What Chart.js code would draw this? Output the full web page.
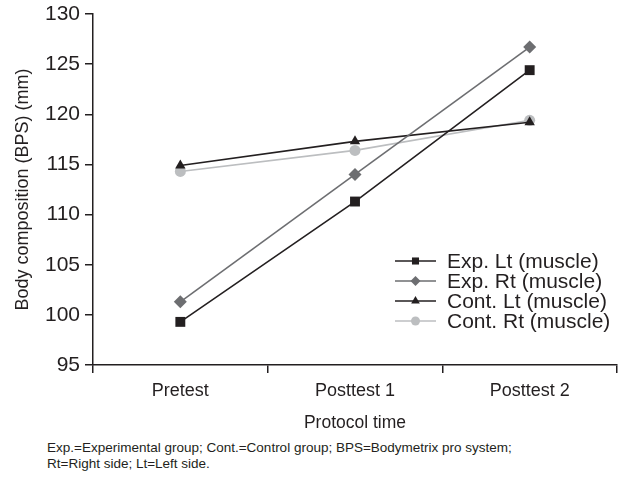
<!DOCTYPE html>
<html>
<head>
<meta charset="utf-8">
<script src="https://cdn.jsdelivr.net/npm/chart.js@4"></script>
<style>
  body { margin: 0; background: #fff; font-family: "Liberation Sans", Arial, sans-serif; }
  #wrap { position: relative; width: 624px; height: 479px; }
  #chart { position: absolute; left: 0; top: 0; }
  #caption { position: absolute; left: 47px; top: 440px; font-size: 13.5px; line-height: 15.5px; color: #231f20; }
</style>
</head>
<body>
<div id="wrap">
  <canvas id="chart" width="624" height="440"></canvas>
  <div id="caption">Exp.=Experimental group; Cont.=Control group; BPS=Bodymetrix pro system;<br>Rt=Right side; Lt=Left side.</div>
</div>
<script>
'use strict';

const time_points = ['Pretest', 'Posttest 1', 'Posttest 2'];
const exp_lt = [99.3, 111.3, 124.4];
const exp_rt = [101.3, 114.0, 126.7];
const cont_lt = [114.9, 117.3, 119.2];
const cont_rt = [114.3, 116.4, 119.4];
const y_ticks = [95, 100, 105, 110, 115, 120, 125, 130];

const FONT = '"Liberation Sans", Arial, sans-serif';

const make_set = (label, data, color, style, radius, legend_radius) => ({
    label, data,
    borderColor: color,
    backgroundColor: color,
    borderWidth: 1.6,
    pointStyle: style,
    pointRadius: radius,
    pointHoverRadius: radius,
    pointBorderWidth: 0,
    legendRadius: legend_radius
});

// legend drawn inside the plot, line with marker through it
const inner_legend = {
    id: 'inner_legend',
    afterDraw(chart) {
        const ctx = chart.ctx;
        const x0 = 395, x1 = 436, tx = 447;
        chart.data.datasets.forEach((ds, i) => {
            const y = 261 + i * 20;
            ctx.save();
            ctx.strokeStyle = ds.borderColor;
            ctx.lineWidth = 1.6;
            ctx.beginPath();
            ctx.moveTo(x0, y);
            ctx.lineTo(x1, y);
            ctx.stroke();
            ctx.fillStyle = ds.backgroundColor;
            Chart.helpers.drawPoint(ctx, { pointStyle: ds.pointStyle, radius: ds.legendRadius, borderWidth: 0 }, (x0 + x1) / 2, y);
            ctx.fillStyle = '#231f20';
            ctx.font = '21px ' + FONT;
            ctx.textBaseline = 'middle';
            ctx.fillText(ds.label, tx, y + 1);
            ctx.restore();
        });
    }
};

new Chart(document.querySelector('#chart'), {
    type: 'line',
    data: {
        labels: time_points,
        datasets: [
            make_set('Exp. Lt (muscle)', exp_lt, '#231f20', 'rect', 7, 5),
            make_set('Exp. Rt (muscle)', exp_rt, '#6d6e71', 'rectRot', 6.5, 5),
            make_set('Cont. Lt (muscle)', cont_lt, '#231f20', 'triangle', 6, 5),
            make_set('Cont. Rt (muscle)', cont_rt, '#bcbec0', 'circle', 5.5, 4.5)
        ]
    },
    options: {
        responsive: false,
        animation: false,
        layout: { padding: { top: 14, right: 7, left: 0, bottom: 0 } },
        plugins: { legend: { display: false }, tooltip: { enabled: false } },
        scales: {
            x: {
                offset: true,
                afterFit: scale => { scale.height = 75; },
                grid: { drawOnChartArea: false, drawTicks: true, tickLength: 8, color: '#231f20', lineWidth: 1.5, offset: true },
                border: { color: '#231f20', width: 1.5 },
                ticks: { color: '#231f20', font: { size: 18, family: FONT }, padding: 7 },
                title: { display: true, text: 'Protocol time', color: '#231f20', font: { size: 17.5, family: FONT }, padding: { top: 6, bottom: 6.5 } }
            },
            y: {
                min: 95,
                max: 130,
                afterFit: scale => { scale.width = 93; scale.paddingTop = 0; scale.paddingBottom = 0; },
                afterBuildTicks: scale => { scale.ticks = y_ticks.map(v => ({ value: v })); },
                grid: { drawOnChartArea: false, drawTicks: true, tickLength: 8, color: '#231f20', lineWidth: 1.5 },
                border: { color: '#231f20', width: 1.5 },
                ticks: { color: '#231f20', font: { size: 21, family: FONT }, padding: 5 },
                title: { display: true, text: 'Body composition (BPS) (mm)', color: '#231f20', font: { size: 18, family: FONT }, padding: { top: 12, bottom: 2 } }
            }
        }
    },
    plugins: [inner_legend]
});
</script>
</body>
</html>
